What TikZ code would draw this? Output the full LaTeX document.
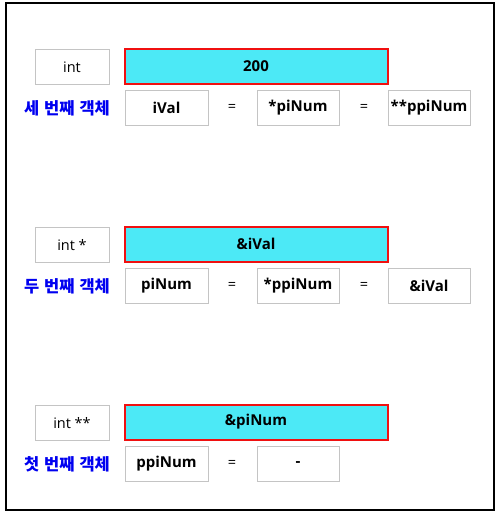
\documentclass[tikz,border=0pt]{standalone}
\usepackage{fontspec}
\setmainfont{Open Sans}
\newfontfamily\kr{Noto Sans CJK KR}
\definecolor{boxgray}{HTML}{C4C4C4}
\definecolor{cyanfill}{HTML}{4CE9F6}
\definecolor{redline}{HTML}{F01010}
\definecolor{krblue}{HTML}{0000F0}
\begin{document}
\begin{tikzpicture}[x=1pt,y=-1pt,
  gbox/.style={draw=boxgray, line width=1pt, fill=white, minimum height=35pt, inner sep=0pt, font=\fontsize{14.5}{16}\selectfont},
  valbox/.style={gbox, font=\fontsize{15}{16}\selectfont\bfseries},
  cbox/.style={draw=redline, line width=2pt, fill=cyanfill, minimum width=263pt, minimum height=35pt, inner sep=0pt, font=\fontsize{15}{16}\selectfont\bfseries},
  klabel/.style={text=krblue, inner sep=0pt, font=\kr\fontsize{16.5}{18}\selectfont\bfseries},
  eqsign/.style={inner sep=0pt, font=\fontsize{14.5}{16}\selectfont}]
\useasboundingbox (0,0) rectangle (496,512);
\draw[line width=2pt] (5.5,3) rectangle (493.5,509.5);
% row 1
\node[gbox, minimum width=74pt] (t1) at (72,67) {int};
\node[cbox] (v1) at (256,66) {200};
\node[klabel] (k1) at (67,108) {세\hspace{0.3em}번째\hspace{0.3em}객체};
\node[valbox, minimum width=83pt] (a1) at (166.5,108) {iVal};
\node[eqsign] (e1a) at (232,108) {=};
\node[valbox, minimum width=82pt] (b1) at (298,108) {*piNum};
\node[eqsign] (e1b) at (364,108) {=};
\node[valbox, minimum width=82pt] (c1) at (429,108) {**ppiNum};
% row 2
\node[gbox, minimum width=74pt] (t2) at (72,245) {int *};
\node[cbox] (v2) at (256,244) {\&iVal};
\node[klabel] (k2) at (67,286) {두\hspace{0.3em}번째\hspace{0.3em}객체};
\node[valbox, minimum width=83pt] (a2) at (166.5,286) {piNum};
\node[eqsign] (e2a) at (232,286) {=};
\node[valbox, minimum width=82pt] (b2) at (298,286) {*ppiNum};
\node[eqsign] (e2b) at (364,286) {=};
\node[valbox, minimum width=82pt] (c2) at (429,286) {\&iVal};
% row 3
\node[gbox, minimum width=74pt] (t3) at (72,423) {int **};
\node[cbox] (v3) at (256,422) {\&piNum};
\node[klabel] (k3) at (67,464) {첫\hspace{0.3em}번째\hspace{0.3em}객체};
\node[valbox, minimum width=83pt] (a3) at (166.5,464) {ppiNum};
\node[eqsign] (e3a) at (232,464) {=};
\node[valbox, minimum width=82pt] (b3) at (298,464) {-};
\end{tikzpicture}
\end{document}
